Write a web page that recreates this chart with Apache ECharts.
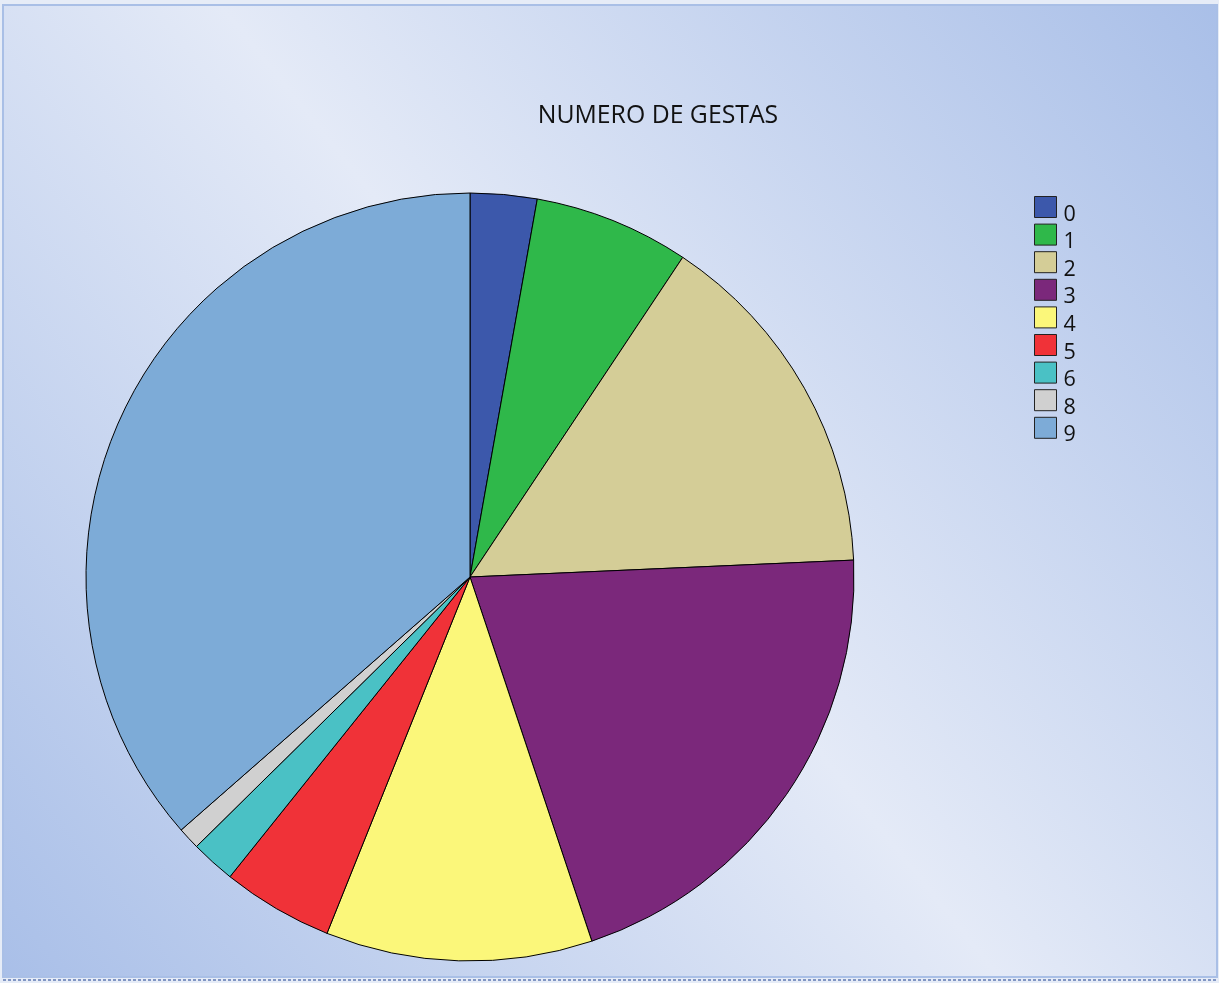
<!DOCTYPE html>
<html>
<head>
<meta charset="utf-8">
<style>
  html, body { margin: 0; padding: 0; background: #ffffff; }
  #chart { width: 1219px; height: 983px; }
</style>
<script src="https://cdn.jsdelivr.net/npm/echarts@6/dist/echarts.min.js"></script>
</head>
<body>
<div id="chart"></div>
<script>
// Number of pregnancies (gestas) per patient
const categories = ['0', '1', '2', '3', '4', '5', '6', '8', '9'];
const counts = [3, 7, 16, 22, 12, 5, 2, 1, 39];
const sliceColors = ['#3c58ab', '#2fb84a', '#d4cd97', '#7b287b', '#fbf77a', '#f03238', '#4ac1c5', '#d0d0d0', '#7dabd7'];
const titleText = 'NUMERO DE GESTAS';

const chart = echarts.init(document.getElementById('chart'), null, { renderer: 'canvas' });

const pieData = categories.map((c, i) => ({
  name: c,
  value: counts[i],
  itemStyle: { color: sliceColors[i] }
}));

chart.setOption({
  animation: false,
  backgroundColor: '#e6ecf7',
  graphic: [
    {
      type: 'rect',
      z: -10,
      shape: { x: 3, y: 5, width: 1214, height: 972 },
      style: {
        fill: {
          type: 'linear', x: 1, y: 0, x2: 0, y2: 1,
          colorStops: [
            { offset: 0, color: '#a9bfe8' },
            { offset: 0.5, color: '#e4eaf7' },
            { offset: 1, color: '#a9bfe8' }
          ]
        },
        stroke: '#a9bfe6',
        lineWidth: 2
      },
      silent: true
    },
    {
      type: 'line',
      z: -9,
      shape: { x1: 3, y1: 980, x2: 1217, y2: 980 },
      style: { stroke: '#8196c4', lineWidth: 2, lineDash: [3, 2] },
      silent: true
    }
  ],
  title: {
    text: titleText,
    left: 653,
    top: 98,
    textAlign: 'center',
    textStyle: {
      fontFamily: 'Open Sans',
      fontSize: 24.8,
      fontWeight: 'normal',
      color: '#111111'
    }
  },
  legend: {
    orient: 'vertical',
    left: 1034,
    top: 196,
    padding: 0,
    itemWidth: 22,
    itemHeight: 21,
    itemGap: -1.9,
    icon: 'rect',
    data: categories,
    itemStyle: { borderColor: '#222222', borderWidth: 1 },
    formatter: '{t|{name}}',
    textStyle: {
      rich: {
        t: {
          fontFamily: 'Open Sans',
          fontSize: 21.5,
          color: '#111111',
          lineHeight: 37,
          verticalAlign: 'bottom',
          padding: [0, 0, 0, 2]
        }
      }
    }
  },
  series: [
    {
      type: 'pie',
      center: [470, 577],
      radius: 384,
      startAngle: 90,
      clockwise: true,
      label: { show: false },
      labelLine: { show: false },
      emphasis: { disabled: true },
      itemStyle: { borderColor: '#000000', borderWidth: 1 },
      data: pieData
    }
  ]
});
</script>
</body>
</html>
